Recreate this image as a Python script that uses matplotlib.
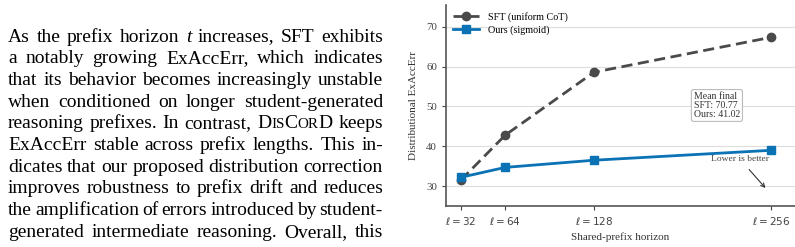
import matplotlib
matplotlib.use("Agg")
import matplotlib.pyplot as plt

# data
horizons = [32, 64, 128, 256]
tick_labels = [r"$\ell = 32$", r"$\ell = 64$", r"$\ell = 128$", r"$\ell = 256$"]
sft_vals = [31.5, 42.8, 58.6, 67.4]
ours_vals = [32.2, 34.7, 36.5, 39.0]
mean_final = {"SFT": 70.77, "Ours": 41.02}

para_lines = [
    "As the prefix horizon *t* increases, SFT exhibits",
    "a notably growing ExAccErr, which indicates",
    "that its behavior becomes increasingly unstable",
    "when conditioned on longer student-generated",
    "reasoning prefixes. In contrast, @DISCORD keeps",
    "ExAccErr stable across prefix lengths. This in-",
    "dicates that our proposed distribution correction",
    "improves robustness to prefix drift and reduces",
    "the amplification of errors introduced by student-",
    "generated intermediate reasoning. Overall, this",
]

plt.rcParams["font.family"] = ["Liberation Serif", "DejaVu Serif"]

W, H = 795, 247
fig = plt.figure(figsize=(W / 100, H / 100), dpi=100)
renderer = fig.canvas.get_renderer()

FS = 14.0
left_px, right_px = 8, 383
base0, step = 41.5, 21.7


def word_segments(word):
    if word.startswith("*") and word.endswith("*"):
        return [(word.strip("*"), FS, "italic")]
    if word.startswith("@"):
        return [("D", FS, "normal"), ("IS", FS * 0.78, "normal"),
                ("C", FS, "normal"), ("OR", FS * 0.78, "normal"),
                ("D", FS, "normal")]
    return [(word, FS, "normal")]


def seg_width(txt, size, style):
    t = fig.text(0, 0, txt, fontsize=size, style=style)
    w = t.get_window_extent(renderer).width
    t.remove()
    return w


for i, line in enumerate(para_lines):
    words = [word_segments(w) for w in line.split(" ")]
    widths = [sum(seg_width(*s) for s in segs) for segs in words]
    gap = (right_px - left_px - sum(widths)) / (len(words) - 1)
    x = left_px
    y = H - (base0 + i * step)
    for segs, w in zip(words, widths):
        xx = x
        for txt, size, style in segs:
            fig.text(xx / W, y / H, txt, fontsize=size, style=style,
                     va="baseline", ha="left")
            xx += seg_width(txt, size, style)
        x += w + gap

# chart
ax = fig.add_axes([446 / W, 1 - 206 / H, (W - 446) / W, (206 - 5) / H])
ax.plot(horizons, sft_vals, color="#4a4a4a", linestyle=(0, (4, 2)),
        linewidth=2, marker="o", markersize=6, label="SFT (uniform CoT)")
ax.plot(horizons, ours_vals, color="#0a72b5", linewidth=2, marker="s",
        markersize=6, label="Ours (sigmoid)")

ax.set_xlim(21.3, 273)
ax.set_ylim(25, 75.5)
ax.set_xticks(horizons)
ax.set_xticklabels(tick_labels, fontsize=7.5)
ax.set_yticks([30, 40, 50, 60, 70])
ax.tick_params(axis="y", labelsize=7.8, colors="#444444", length=3)
ax.tick_params(axis="x", colors="#444444", length=3)
ax.grid(axis="y", color="#dddddd", linewidth=0.8)
ax.set_axisbelow(True)
for s in ["top", "right"]:
    ax.spines[s].set_visible(False)
for s in ["left", "bottom"]:
    ax.spines[s].set_color("#555555")
    ax.spines[s].set_linewidth(1.2)

ax.set_xlabel("Shared-prefix horizon", fontsize=8, color="#333333", labelpad=4)
ax.set_ylabel("Distributional ExAccErr", fontsize=8, color="#333333", labelpad=6)

ax.legend(loc="upper left", fontsize=7.3, frameon=False, handlelength=2.6,
          borderaxespad=0.3, labelspacing=0.35)

box_txt = "Mean final\nSFT: %.2f\nOurs: %.2f" % (mean_final["SFT"], mean_final["Ours"])
ax.text(0.71, 0.50, box_txt, transform=ax.transAxes, fontsize=7,
        color="#333333", va="center", ha="left", linespacing=1.0,
        bbox=dict(boxstyle="round,pad=0.25", fc="white", ec="#bbbbbb", lw=0.8))

ax.annotate("Lower is better", xy=(253, 29.0), xytext=(233, 36.9),
            fontsize=6.8, color="#444444", ha="center", va="center",
            arrowprops=dict(arrowstyle="->", color="#333333", lw=0.8,
                            shrinkA=4))

fig.savefig("out.png", dpi=100)
